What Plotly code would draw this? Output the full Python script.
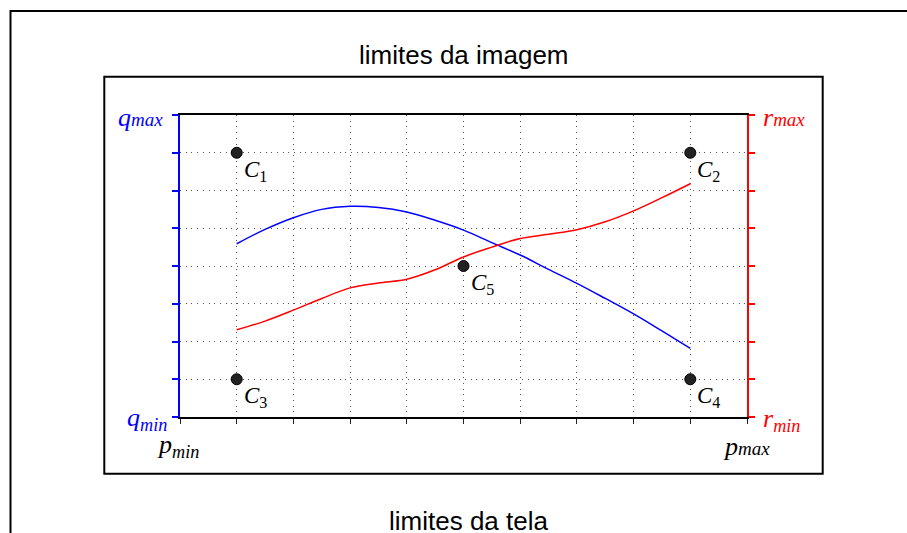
import plotly.graph_objects as go

# ---- data ----
grid_x = list(range(0, 11))          # p axis divisions
grid_y = list(range(0, 9))           # q / r axis divisions
point_x = [1, 9, 1, 9, 5]
point_y = [7, 7, 1, 1, 4]
point_names = ["1", "2", "3", "4", "5"]

curve_x = [1, 1.5, 2, 2.5, 3, 3.5, 4, 4.5, 5, 5.5, 6, 6.5, 7, 7.5, 8, 8.5, 9]
blue_q = [4.59, 4.97, 5.28, 5.50, 5.58, 5.55, 5.43, 5.21, 4.95, 4.62, 4.29, 3.91, 3.54, 3.14, 2.73, 2.28, 1.82]
red_r = [2.31, 2.54, 2.83, 3.14, 3.42, 3.55, 3.65, 3.90, 4.24, 4.50, 4.73, 4.84, 4.96, 5.17, 5.46, 5.81, 6.18]

W, H = 907, 533
ML, MR, MT, MB = 180, 160, 115, 116
PW, PH = W - ML - MR, H - MT - MB


def pxx(x):
    return (x - ML) / PW


def pyy(y):
    return (H - MB - y) / PH


fig = go.Figure()

fig.add_trace(go.Scatter(x=curve_x, y=blue_q, mode="lines",
                         line=dict(color="#0000ff", width=1.5, shape="spline"),
                         showlegend=False, hoverinfo="skip"))
fig.add_trace(go.Scatter(x=curve_x, y=red_r, mode="lines", yaxis="y2",
                         line=dict(color="#ff0000", width=1.5, shape="spline"),
                         showlegend=False, hoverinfo="skip"))
fig.add_trace(go.Scatter(x=point_x, y=point_y, mode="markers",
                         marker=dict(color="#222222", size=11,
                                     line=dict(color="#000000", width=1)),
                         showlegend=False, hoverinfo="skip"))

serif = "Liberation Serif, Times New Roman, serif"
sans = "Liberation Sans, Arial, sans-serif"

annotations = []
for x, y, n in zip(point_x, point_y, point_names):
    annotations.append(dict(x=x, y=y, xref="x", yref="y",
                            text="<i>C</i><sub>%s</sub>" % n,
                            showarrow=False, xanchor="left", yanchor="top",
                            xshift=5, yshift=-2,
                            font=dict(family=serif, size=23, color="#000")))

# axis limit labels
def lab(text, x, y, xa, color, yanchor="middle"):
    annotations.append(dict(x=pxx(x), y=pyy(y), xref="paper", yref="paper",
                            text=text, showarrow=False, xanchor=xa, yanchor=yanchor,
                            font=dict(family=serif, size=26, color=color)))

mx = "<span style='font-size:19px'>max</span>"
lab("<i>q" + mx + "</i>", 165, 117, "right", "#0000ff")
lab("<i>q<sub>min</sub></i>", 169, 419, "right", "#0000ff")
lab("<i>p<sub>min</sub></i>", 155, 446, "left", "#000000")
lab("<i>r" + mx + "</i>", 761, 117, "left", "#ff0000")
lab("<i>r<sub>min</sub></i>", 761, 420, "left", "#ff0000")
lab("<i>p" + mx + "</i>", 721, 446, "left", "#000000")

annotations.append(dict(x=pxx(463.5), y=pyy(55), xref="paper", yref="paper",
                        text="limites da imagem", showarrow=False,
                        xanchor="center", yanchor="middle",
                        font=dict(family=sans, size=26, color="#000")))
annotations.append(dict(x=pxx(468), y=pyy(521), xref="paper", yref="paper",
                        text="limites da tela", showarrow=False,
                        xanchor="center", yanchor="middle",
                        font=dict(family=sans, size=26, color="#000")))

shapes = [
    dict(type="rect", xref="paper", yref="paper",
         x0=pxx(10.5), x1=pxx(930), y0=pyy(11), y1=pyy(560),
         line=dict(color="#000", width=2), layer="below"),
    dict(type="rect", xref="paper", yref="paper",
         x0=pxx(104.3), x1=pxx(822.7), y0=pyy(76.7), y1=pyy(473.7),
         line=dict(color="#000", width=2), layer="below"),
]

grid_color = "#555555"
fig.update_layout(
    width=W, height=H,
    margin=dict(l=ML, r=MR, t=MT, b=MB, pad=0),
    paper_bgcolor="white", plot_bgcolor="white",
    xaxis=dict(range=[0, 10], tickvals=grid_x, showticklabels=False,
               showgrid=True, gridcolor=grid_color, gridwidth=1, griddash="1px,4.7px",
               zeroline=False, showline=True, linecolor="#000", linewidth=2,
               mirror=True, ticks="outside", ticklen=5, tickwidth=1,
               tickcolor="#222", automargin=False, fixedrange=True),
    yaxis=dict(range=[0, 8], tickvals=grid_y, showticklabels=False,
               showgrid=True, gridcolor=grid_color, gridwidth=1, griddash="1px,4.7px",
               zeroline=False, showline=True, linecolor="#0000ff", linewidth=2,
               ticks="outside", ticklen=6, tickwidth=1.5, tickcolor="#0000ff",
               automargin=False, fixedrange=True),
    yaxis2=dict(range=[0, 8], tickvals=grid_y, showticklabels=False,
                overlaying="y", side="right", showgrid=False, zeroline=False,
                showline=True, linecolor="#ff0000", linewidth=2,
                ticks="outside", ticklen=6, tickwidth=1.5, tickcolor="#ff0000",
                automargin=False, fixedrange=True),
    annotations=annotations,
    shapes=shapes,
)

fig.write_html("out.html", config={"displayModeBar": False})
